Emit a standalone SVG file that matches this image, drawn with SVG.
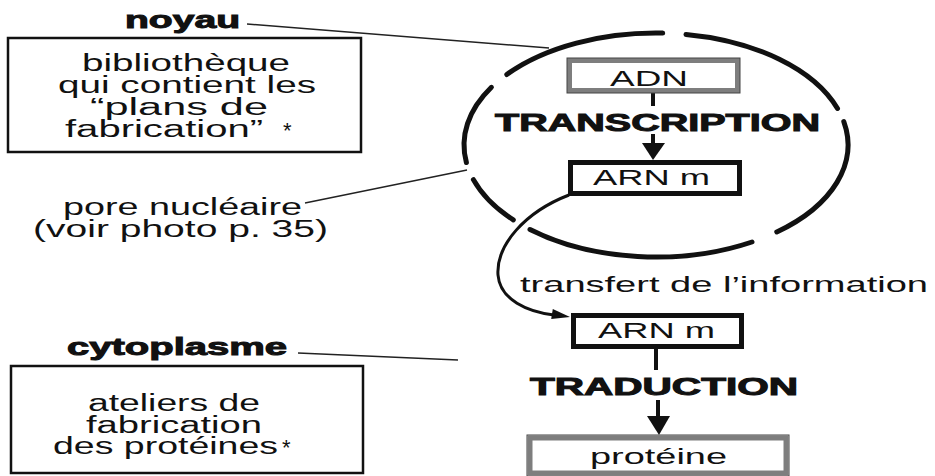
<svg xmlns="http://www.w3.org/2000/svg" width="935" height="476" viewBox="0 0 935 476">
<style>
  text { font-family: "Liberation Sans", Arial, Helvetica, sans-serif; fill: #111; }
  .body { font-size: 23px; }
  .label { font-size: 22px; }
  .heavy { font-size: 24px; font-weight: bold; stroke: #111; stroke-width: 1; }
  .node { font-size: 22px; }
  .star { font-size: 22px; }
  .frame { fill: #fff; stroke: #111; stroke-width: 2.5; }
  .gray { fill: #fff; stroke: #7e7e7e; stroke-width: 5; }
  .edge { fill: none; stroke: #444; stroke-width: 1; }
  .black { fill: #fff; stroke: #111; stroke-width: 5; }
  .leader { fill: none; stroke: #222; stroke-width: 1.5; }
  .membrane { fill: none; stroke: #111; stroke-width: 5; stroke-linecap: round; }
  .stem { stroke: #111; stroke-width: 4; }
  .curve { fill: none; stroke: #111; stroke-width: 3; }
</style>

<g id="nucleus">
  <path class="membrane" d="M686.0,34.4 A192,112 0 0 1 837.5,108.5"/>
  <path class="membrane" d="M843.8,121.7 A192,112 0 0 1 776.8,232.0"/>
  <path class="membrane" d="M752.0,242.0 A192,112 0 0 1 530.0,229.5"/>
  <path class="membrane" d="M513.3,219.9 A192,112 0 0 1 473.4,179.6"/>
  <path class="membrane" d="M466.4,162.5 A192,112 0 0 1 491.4,87.3"/>
  <path class="membrane" d="M506.8,74.5 A192,112 0 0 1 662.7,33.1"/>
</g>

<g id="connectors">
  <line class="leader" x1="247" y1="24" x2="549" y2="48"/>
  <line class="leader" x1="305" y1="203" x2="467" y2="170"/>
  <line class="leader" x1="298" y1="353" x2="458" y2="360"/>
  <line class="stem" x1="653" y1="93" x2="653" y2="106"/>
  <line class="stem" x1="653" y1="134" x2="653" y2="146"/>
  <polygon points="642,143 665,143 653,160" fill="#111"/>
  <line class="stem" x1="656" y1="349" x2="656" y2="370"/>
  <line class="stem" x1="658" y1="400" x2="658" y2="419"/>
  <polygon points="647,416 670,416 659,435" fill="#111"/>
  <path class="curve" d="M569,195 C525,212 496,245 498,275 C500,300 528,312 554,315"/>
  <polygon points="570,317 552.8,309.1 551.2,318.9" fill="#111"/>
</g>

<g id="noyau-label">
  <text class="heavy" x="125" y="28" textLength="115" lengthAdjust="spacingAndGlyphs">noyau</text>
</g>

<g id="noyau-box">
  <rect class="frame" x="8" y="38" width="353" height="114"/>
  <text class="body" x="82" y="71" textLength="208" lengthAdjust="spacingAndGlyphs">bibliothèque</text>
  <text class="body" x="58" y="93" textLength="258" lengthAdjust="spacingAndGlyphs">qui contient les</text>
  <text class="body" x="90" y="115" textLength="178" lengthAdjust="spacingAndGlyphs">“plans de</text>
  <text class="body" x="65" y="137" textLength="198" lengthAdjust="spacingAndGlyphs">fabrication”</text>
  <text class="star" x="283" y="138">*</text>
</g>

<g id="pore-label">
  <text class="body" x="63" y="215" textLength="239" lengthAdjust="spacingAndGlyphs">pore nucléaire</text>
  <text class="body" x="33" y="237" textLength="295" lengthAdjust="spacingAndGlyphs">(voir photo p. 35)</text>
</g>

<g id="adn">
  <rect class="gray" x="569.5" y="60.5" width="168" height="30"/>
  <rect class="edge" x="567" y="58" width="173" height="35"/>
  <text class="node" x="610" y="86" textLength="78" lengthAdjust="spacingAndGlyphs">ADN</text>
</g>

<g id="transcription">
  <text class="heavy" x="495" y="131" textLength="325" lengthAdjust="spacingAndGlyphs">TRANSCRIPTION</text>
</g>

<g id="arnm-nucleus">
  <rect class="black" x="570.5" y="162.5" width="169" height="31"/>
  <text class="node" x="593" y="185" textLength="117" lengthAdjust="spacingAndGlyphs">ARN m</text>
</g>

<g id="transfert">
  <text class="label" x="520" y="292" textLength="408" lengthAdjust="spacingAndGlyphs">transfert de l’information</text>
</g>

<g id="arnm-cytoplasm">
  <rect class="black" x="573.5" y="315.5" width="168" height="31"/>
  <text class="node" x="598" y="338" textLength="117" lengthAdjust="spacingAndGlyphs">ARN m</text>
</g>

<g id="traduction">
  <text class="heavy" x="530" y="395" textLength="268" lengthAdjust="spacingAndGlyphs">TRADUCTION</text>
</g>

<g id="proteine">
  <rect class="gray" x="530" y="438" width="256" height="35" stroke-width="6"/>
  <rect class="edge" x="527" y="435" width="262" height="41"/>
  <text class="node" x="590" y="464" textLength="137" lengthAdjust="spacingAndGlyphs">protéine</text>
</g>

<g id="cytoplasme-label">
  <text class="heavy" x="67" y="355" textLength="220" lengthAdjust="spacingAndGlyphs">cytoplasme</text>
</g>

<g id="cytoplasme-box">
  <rect class="frame" x="11" y="366" width="352" height="107"/>
  <text class="body" x="88" y="411" textLength="172" lengthAdjust="spacingAndGlyphs">ateliers de</text>
  <text class="body" x="86" y="433" textLength="176" lengthAdjust="spacingAndGlyphs">fabrication</text>
  <text class="body" x="53" y="454" textLength="225" lengthAdjust="spacingAndGlyphs">des protéines</text>
  <text class="star" x="282" y="455">*</text>
</g>
</svg>
